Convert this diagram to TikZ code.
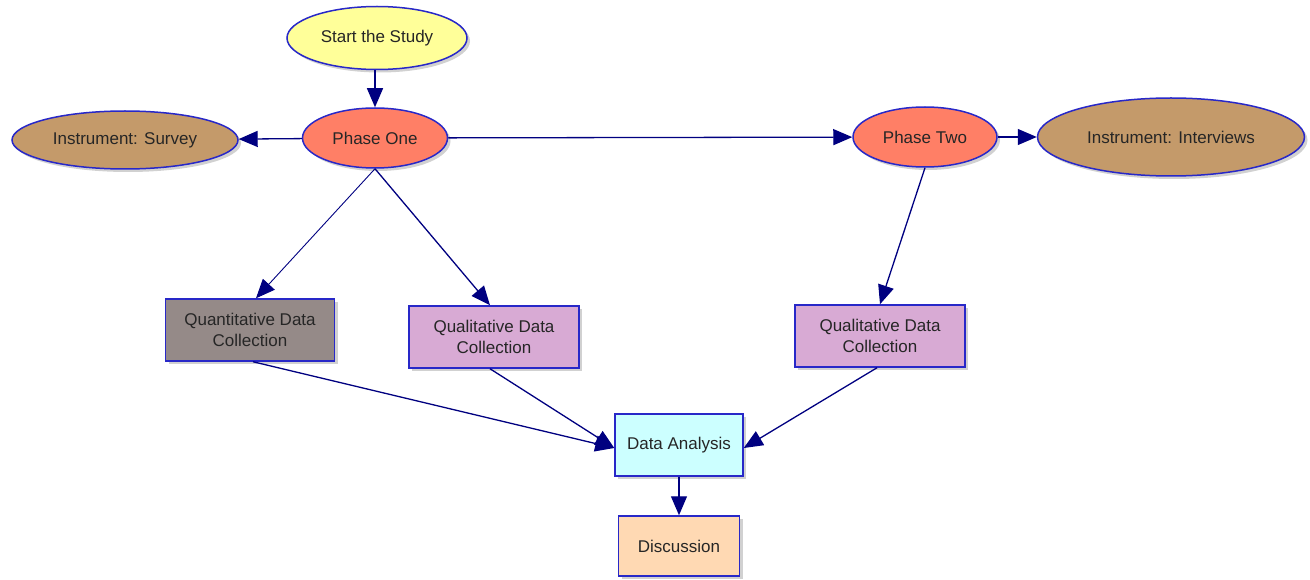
\documentclass[tikz,border=0pt]{standalone}
\usepackage{fontspec}
\setmainfont{Liberation Sans}
\usetikzlibrary{shapes.geometric,arrows.meta,shadows}
\definecolor{edgec}{HTML}{000080}
\definecolor{bordc}{HTML}{2828C8}
\definecolor{startc}{HTML}{FFFF99}
\definecolor{phasec}{HTML}{FF7F66}
\definecolor{instc}{HTML}{C49A6A}
\definecolor{quantc}{HTML}{958A88}
\definecolor{qualc}{HTML}{D8AAD4}
\definecolor{dac}{HTML}{CCFFFF}
\definecolor{discc}{HTML}{FFD9B3}
\tikzset{
  base/.style={draw=bordc, line width=1.5pt, font=\fontsize{17}{21.5}\selectfont, text=black!85, align=center, inner sep=0pt,
    drop shadow={shadow xshift=3pt, shadow yshift=-3pt, opacity=0.3, fill=black!60}},
  ell/.style={base, ellipse},
  boxn/.style={base, rectangle},
  conn/.style={draw=edgec, line width=1.3pt, -{Triangle[length=19pt,width=16pt]}}
}
\begin{document}
\begin{tikzpicture}[x=1pt,y=-1pt]
\useasboundingbox (0,0) rectangle (1310,580);
\node[ell, fill=startc, minimum width=180pt, minimum height=63pt] (start) at (377,38) {Start the Study};
\node[ell, fill=phasec, minimum width=145pt, minimum height=60pt] (p1) at (375,138) {Phase One};
\node[ell, fill=instc, minimum width=226pt, minimum height=58pt] (survey) at (125,140) {Instrument: Survey};
\node[ell, fill=phasec, minimum width=144pt, minimum height=60pt] (p2) at (925,137) {Phase Two};
\node[ell, fill=instc, minimum width=267pt, minimum height=78pt] (interv) at (1171,137) {Instrument: Interviews};
\node[boxn, fill=quantc, minimum width=169pt, minimum height=62pt] (quant) at (250,330) {Quantitative Data\\Collection};
\node[boxn, fill=qualc, minimum width=170pt, minimum height=62pt] (qual1) at (494,337) {Qualitative Data\\Collection};
\node[boxn, fill=qualc, minimum width=170pt, minimum height=62pt] (qual2) at (880,336) {Qualitative Data\\Collection};
\node[boxn, fill=dac, minimum width=128pt, minimum height=62pt] (da) at (679,445) {Data Analysis};
\node[boxn, fill=discc, minimum width=121pt, minimum height=60pt] (disc) at (679,546) {Discussion};

\draw[conn] ([xshift=-2pt]start.south) -- (p1.north);
\draw[conn] (p1) -- (survey);
\draw[conn] (p1) -- (p2);
\draw[conn] (p2) -- (interv);
\draw[conn, line width=0.9pt] (p1.south) -- ([xshift=6pt]quant.north);
\draw[conn] (p1.south) -- ([xshift=-4pt]qual1.north);
\draw[conn] (p2.south) -- (qual2.north);
\draw[conn] ([xshift=3pt]quant.south) -- ([yshift=-3pt]da.west);
\draw[conn] ([xshift=-4pt]qual1.south) -- ([yshift=-3pt]da.west);
\draw[conn] ([xshift=-3pt]qual2.south) -- ([yshift=-3pt]da.east);
\draw[conn] (da) -- (disc);
\end{tikzpicture}
\end{document}
